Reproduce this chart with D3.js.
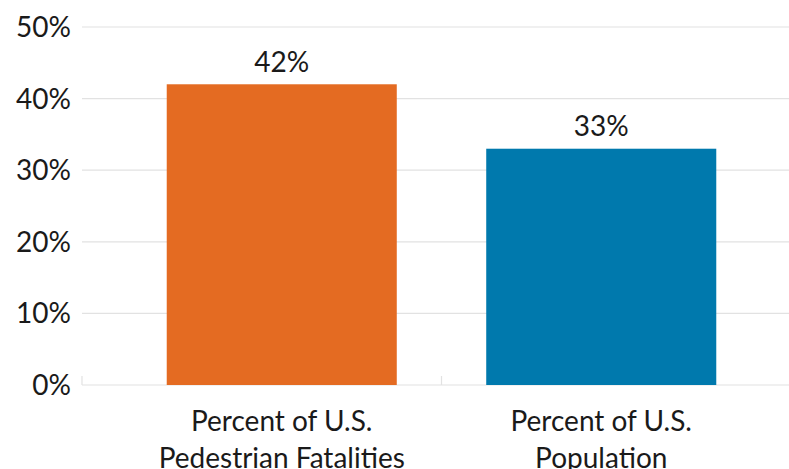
<!DOCTYPE html>
<html><head><meta charset="utf-8">
<script src="https://cdn.jsdelivr.net/npm/d3@7"></script>
<style>body{margin:0;background:#fff}svg{display:block}text{font-family:Lato,"Open Sans",sans-serif;fill:#1a1a1a}</style>
</head><body><svg id="c" width="789" height="469"></svg>
<script>
const categories = [["Percent of U.S.", "Pedestrian Fatalities"], ["Percent of U.S.", "Population"]];
const values = [42, 33];
const colors = ["#E46B22", "#0079AD"];
const yTicks = [0, 10, 20, 30, 40, 50];

(function () {
const svg = d3.select("#c");
const mLeft = 82, mRight = 789, mTop = 27, mBottom = 385;
const fs = 28;
const y = d3.scaleLinear().domain([0, 50]).range([mBottom, mTop]);
const x = d3.scaleBand().domain(d3.range(values.length)).range([122, 761]).paddingInner(0.28).paddingOuter(0.14);

svg.append("g").selectAll("line").data(yTicks).join("line")
  .attr("x1", mLeft).attr("x2", mRight).attr("y1", d => y(d)).attr("y2", d => y(d))
  .attr("stroke", "#e2e2e2").attr("stroke-width", 1.2);

svg.append("g").selectAll("text").data(yTicks).join("text")
  .attr("x", 71).attr("y", d => y(d) + 10).attr("text-anchor", "end")
  .attr("font-size", fs).text(d => d + "%");

const sep = [mLeft, (x(0) + x.bandwidth() + x(1)) / 2];
svg.append("g").selectAll("line").data(sep).join("line")
  .attr("x1", d => d).attr("x2", d => d).attr("y1", mBottom - 9).attr("y2", mBottom)
  .attr("stroke", "#e2e2e2").attr("stroke-width", 1.2);

svg.append("g").selectAll("rect").data(values).join("rect")
  .attr("x", (d, i) => x(i)).attr("width", x.bandwidth())
  .attr("y", d => y(d)).attr("height", d => mBottom - y(d))
  .attr("fill", (d, i) => colors[i]);

svg.append("g").selectAll("text").data(values).join("text")
  .attr("x", (d, i) => x(i) + x.bandwidth() / 2).attr("y", d => y(d) - 12.5)
  .attr("text-anchor", "middle").attr("font-size", fs).text(d => d + "%");

const cl = svg.append("g").selectAll("text").data(categories).join("text")
  .attr("text-anchor", "middle").attr("font-size", fs);
cl.selectAll("tspan").data((d, i) => d.map(s => ({s, i}))).join("tspan")
  .attr("x", d => x(d.i) + x.bandwidth() / 2)
  .attr("y", (d, j) => 431 + j * 37).text(d => d.s);
})();
</script></body></html>
